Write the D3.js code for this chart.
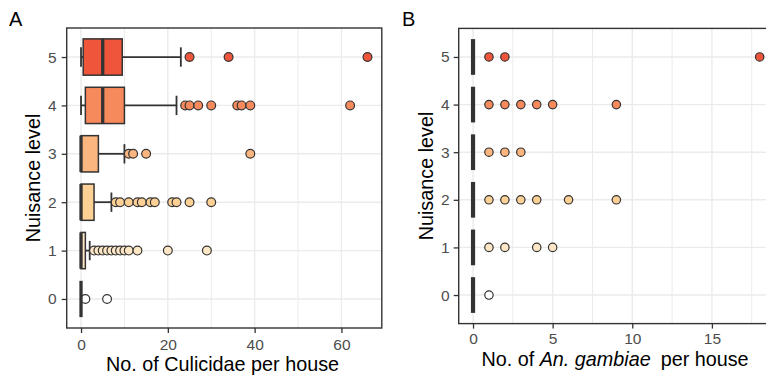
<!DOCTYPE html>
<html>
<head>
<meta charset="utf-8">
<script src="https://cdn.jsdelivr.net/npm/d3@7/dist/d3.min.js"></script>
<style>
  html, body { margin: 0; padding: 0; background: #fff; }
  svg { display: block; font-family: "Liberation Sans", Arial, sans-serif; }
</style>
</head>
<body>
<svg id="chart" width="766" height="376"></svg>
<script>
// Nuisance levels (categories) and their fill colours
const levels = ["0", "1", "2", "3", "4", "5"];
const levelColors = ["#FFFFFF", "#FEE7C5", "#FDD196", "#FBB57F", "#F78A5C", "#EE553B"];

// Panel A: Culicidae per house, box statistics per nuisance level
const culLower  = [0, 0, 0, 0, 0, 0];
const culQ1     = [0, 0, 0, 0, 1, 0.5];
const culMedian = [0, 0, 0, 0, 5, 5];
const culQ3     = [0, 1, 3, 4, 10, 9.5];
const culUpper  = [0, 2, 7, 10, 22, 23];
const culOut0 = [1, 6];
const culOut1 = [3, 4, 5, 6, 7, 8, 9, 10, 11, 13, 20, 29];
const culOut2 = [8, 9, 11, 13, 14, 16, 17, 21, 22, 25, 30];
const culOut3 = [11, 12, 15, 39];
const culOut4 = [24, 25, 27, 30, 36, 37, 39, 62];
const culOut5 = [25, 34, 66];
const culTicks = [0, 20, 40, 60];
const culMinor = [10, 30, 50];

// Panel B: An. gambiae per house, box statistics per nuisance level
const gamLower  = [0, 0, 0, 0, 0, 0];
const gamQ1     = [0, 0, 0, 0, 0, 0];
const gamMedian = [0, 0, 0, 0, 0, 0];
const gamQ3     = [0, 0, 0, 0, 0, 0];
const gamUpper  = [0, 0, 0, 0, 0, 0];
const gamOut0 = [1];
const gamOut1 = [1, 2, 4, 5];
const gamOut2 = [1, 2, 3, 4, 6, 9];
const gamOut3 = [1, 2, 3];
const gamOut4 = [1, 2, 3, 4, 5, 9];
const gamOut5 = [1, 2, 18];
const gamTicks = [0, 5, 10, 15];
const gamMinor = [2.5, 7.5, 12.5, 17.5];

const svg = d3.select("#chart");

function buildStats(lower, q1, med, q3, upper, outs) {
  return levels.map((lv, i) => ({
    level: lv, color: levelColors[i],
    lower: lower[i], q1: q1[i], median: med[i], q3: q3[i], upper: upper[i],
    outliers: outs[i]
  }));
}

function drawPanel(opt) {
  const { left, top, right, bottom, stats, xMin, xMax, ticks, minor } = opt;
  const g = svg.append("g");

  // ggplot-style 5% expansion of the continuous axis
  const pad = (xMax - xMin) * 0.05;
  const x = d3.scaleLinear().domain([xMin - pad, xMax + pad]).range([left, right]);
  const y = d3.scalePoint().domain(levels).range([bottom, top]).padding(0.6);
  const step = y.step();

  // panel background grid
  const grid = g.append("g");
  grid.selectAll("line.minor").data(minor).join("line")
    .attr("x1", d => x(d)).attr("x2", d => x(d))
    .attr("y1", top).attr("y2", bottom)
    .attr("stroke", "#EBEBEB").attr("stroke-width", 1.0);
  grid.selectAll("line.majx").data(ticks).join("line")
    .attr("x1", d => x(d)).attr("x2", d => x(d))
    .attr("y1", top).attr("y2", bottom)
    .attr("stroke", "#EBEBEB").attr("stroke-width", 1.4);
  grid.selectAll("line.majy").data(levels).join("line")
    .attr("x1", left).attr("x2", right)
    .attr("y1", d => y(d)).attr("y2", d => y(d))
    .attr("stroke", "#EBEBEB").attr("stroke-width", 1.4);

  const boxH = step * 0.75;
  const capH = step * 0.4;
  const ink = "#333333";

  stats.forEach(s => {
    const cy = y(s.level);
    const grp = g.append("g");

    // error-bar whisker caps
    [s.lower, s.upper].forEach(v => {
      grp.append("line")
        .attr("x1", x(v)).attr("x2", x(v))
        .attr("y1", cy - capH / 2).attr("y2", cy + capH / 2)
        .attr("stroke", ink).attr("stroke-width", 1.8);
    });

    // outliers
    grp.selectAll("circle").data(s.outliers).join("circle")
      .attr("cx", d => x(d)).attr("cy", cy).attr("r", opt.r)
      .attr("fill", s.color).attr("stroke", ink).attr("stroke-width", 1.2);

    // whiskers
    grp.append("line")
      .attr("x1", x(s.lower)).attr("x2", x(s.q1))
      .attr("y1", cy).attr("y2", cy)
      .attr("stroke", ink).attr("stroke-width", 1.8);
    grp.append("line")
      .attr("x1", x(s.q3)).attr("x2", x(s.upper))
      .attr("y1", cy).attr("y2", cy)
      .attr("stroke", ink).attr("stroke-width", 1.8);

    // box
    grp.append("rect")
      .attr("x", x(s.q1)).attr("y", cy - boxH / 2)
      .attr("width", Math.max(0, x(s.q3) - x(s.q1))).attr("height", boxH)
      .attr("fill", s.color).attr("stroke", ink).attr("stroke-width", 1.5);

    // median
    grp.append("line")
      .attr("x1", x(s.median)).attr("x2", x(s.median))
      .attr("y1", cy - boxH / 2).attr("y2", cy + boxH / 2)
      .attr("stroke", ink).attr("stroke-width", opt.medW);
  });

  // panel border
  g.append("rect")
    .attr("x", left).attr("y", top)
    .attr("width", right - left).attr("height", bottom - top)
    .attr("fill", "none").attr("stroke", "#333333").attr("stroke-width", 1.4);

  // axes
  const xAxis = g.append("g").attr("transform", `translate(0,${bottom})`)
    .call(d3.axisBottom(x).tickValues(ticks).tickSize(5).tickPadding(opt.xPad).tickFormat(d3.format("d")));
  const yAxis = g.append("g").attr("transform", `translate(${left},0)`)
    .call(d3.axisLeft(y).tickSize(5).tickPadding(opt.yPad));
  [xAxis, yAxis].forEach(a => {
    a.select(".domain").remove();
    a.selectAll(".tick line").attr("stroke", "#333333").attr("stroke-width", 1.3);
    a.selectAll(".tick text").attr("fill", "#4D4D4D")
      .style("font-size", "15.5px").style("font-family", "'Liberation Sans', Arial, sans-serif");
  });

  // axis titles
  const xt = g.append("text")
    .attr("x", opt.xTitleX)
    .attr("y", opt.xTitleY)
    .attr("text-anchor", "middle")
    .style("font-size", "19.8px").attr("fill", "#000");
  opt.xTitle.forEach(part => {
    xt.append("tspan").text(part.t).style("font-style", part.italic ? "italic" : "normal");
  });
  g.append("text")
    .attr("transform", `translate(${opt.yTitleX},${(top + bottom) / 2}) rotate(-90)`)
    .attr("text-anchor", "middle")
    .style("font-size", "19.8px").attr("fill", "#000")
    .text("Nuisance level");

  // panel tag
  g.append("text")
    .attr("x", opt.tagX).attr("y", 26)
    .style("font-size", "20px").attr("fill", "#000")
    .text(opt.tag);
}

drawPanel({
  tag: "A", tagX: 9,
  left: 66.7, right: 381.8, top: 28, bottom: 328,
  stats: buildStats(culLower, culQ1, culMedian, culQ3, culUpper,
    [culOut0, culOut1, culOut2, culOut3, culOut4, culOut5]),
  xMin: 0, xMax: 66, ticks: culTicks, minor: culMinor,
  r: 4.4, medW: 3.3, xPad: 6, yPad: 5,
  xTitleX: 222.5, xTitleY: 370.7, yTitleX: 40,
  xTitle: [{ t: "No. of Culicidae per house" }]
});

drawPanel({
  tag: "B", tagX: 402,
  left: 458.7, right: 774, top: 28.4, bottom: 323.6,
  stats: buildStats(gamLower, gamQ1, gamMedian, gamQ3, gamUpper,
    [gamOut0, gamOut1, gamOut2, gamOut3, gamOut4, gamOut5]),
  xMin: 0, xMax: 18, ticks: gamTicks, minor: gamMinor,
  r: 4.2, medW: 4.2, xPad: 4.5, yPad: 4,
  xTitleX: 615, xTitleY: 366.3, yTitleX: 433,
  xTitle: [{ t: "No. of " }, { t: "An. gambiae", italic: true }, { t: "\u2002per house" }]
});
</script>
</body>
</html>
